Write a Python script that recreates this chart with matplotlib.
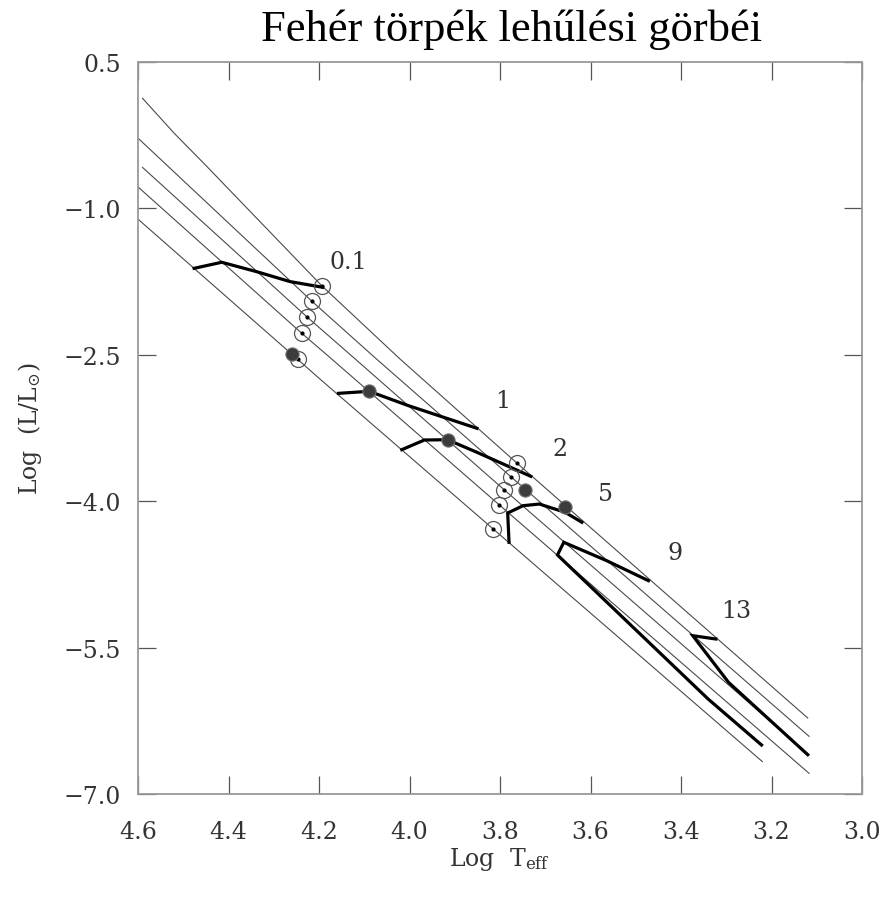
import numpy as np
import matplotlib
matplotlib.use('Agg')
import matplotlib.pyplot as plt

# cooling tracks (thin lines), log Teff / log L
track_a_x = [4.59, 4.52, 4.45, 4.194, 4.021, 3.762, 3.120]
track_a_y = [0.128, -0.23, -0.56, -1.792, -2.543, -3.612, -6.221]
track_b_x = [4.60, 4.216, 4.073, 3.776, 3.117]
track_b_y = [-0.28, -1.95, -2.543, -3.749, -6.409]
track_c_x = [4.59, 4.227, 4.120, 3.791, 3.117]
track_c_y = [-0.58, -2.11, -2.543, -3.882, -6.60]
track_d_x = [4.60, 4.238, 4.172, 3.802, 3.117]
track_d_y = [-0.78, -2.28, -2.543, -4.036, -6.788]
track_e_x = [4.60, 4.247, 4.198, 3.815, 3.220]
track_e_y = [-1.11, -2.547, -2.748, -4.285, -6.669]

# isochrones (thick lines), age labels in Gyr
iso_01_x = [4.476, 4.415, 4.338, 4.264, 4.192]
iso_01_y = [-1.614, -1.552, -1.648, -1.750, -1.808]
iso_1_x = [4.157, 4.089, 4.003, 3.851]
iso_1_y = [-2.895, -2.874, -3.020, -3.253]
iso_2_x = [4.017, 3.967, 3.916, 3.851, 3.732]
iso_2_y = [-3.472, -3.373, -3.370, -3.499, -3.745]
iso_5_x = [3.780, 3.783, 3.749, 3.713, 3.656, 3.619]
iso_5_y = [-4.421, -4.121, -4.046, -4.029, -4.114, -4.216]
iso_9_x = [3.472, 3.564, 3.659, 3.673, 3.340, 3.222]
iso_9_y = [-4.814, -4.610, -4.421, -4.551, -6.027, -6.498]
iso_13_x = [3.323, 3.374, 3.295, 3.120]
iso_13_y = [-5.412, -5.378, -5.856, -6.597]

labels = ['0.1', '1', '2', '5', '9', '13']
label_x = [4.136, 3.793, 3.667, 3.566, 3.413, 3.277]
label_y = [-1.549, -2.970, -3.458, -3.926, -4.524, -5.122]

open_x = [4.194, 4.216, 4.227, 4.238, 4.247, 3.762, 3.776, 3.791, 3.802, 3.815]
open_y = [-1.79, -1.95, -2.11, -2.28, -2.54, -3.612, -3.749, -3.882, -4.036, -4.285]
filled_x = [4.259, 4.089, 3.916, 3.745, 3.656]
filled_y = [-2.49, -2.874, -3.37, -3.882, -4.063]

xticks = [4.6, 4.4, 4.2, 4.0, 3.8, 3.6, 3.4, 3.2, 3.0]
xtick_labels = ['4.6', '4.4', '4.2', '4.0', '3.8', '3.6', '3.4', '3.2', '3.0']
yticks = [0.5, -1.0, -2.5, -4.0, -5.5, -7.0]
ytick_labels = ['0.5', '\u22121.0', '\u22122.5', '\u22124.0', '\u22125.5', '\u22127.0']

plt.rcParams['font.family'] = ['DejaVu Serif']
plt.rcParams['mathtext.fontset'] = 'dejavuserif'

fig = plt.figure(figsize=(8.84, 9.03), dpi=100)
ax = fig.add_axes([138/884, 1-795/903, 724/884, 732/903])

thin = dict(color='#4a4a4a', lw=0.8, zorder=2)
for tx, ty in [(track_a_x, track_a_y), (track_b_x, track_b_y), (track_c_x, track_c_y),
               (track_d_x, track_d_y), (track_e_x, track_e_y)]:
    ax.plot(tx, ty, **thin)

thick = dict(color='black', lw=2.3, zorder=3, solid_joinstyle='miter')
for ix, iy in [(iso_01_x, iso_01_y), (iso_1_x, iso_1_y), (iso_2_x, iso_2_y),
               (iso_5_x, iso_5_y), (iso_9_x, iso_9_y), (iso_13_x, iso_13_y)]:
    ax.plot(ix, iy, **thick)

ax.plot(open_x, open_y, ls='None', marker='o', ms=11.5, mfc='none', mec='#555555', mew=0.9, zorder=4)
ax.plot(open_x, open_y, ls='None', marker='o', ms=2, color='black', zorder=5)
ax.plot(filled_x, filled_y, ls='None', marker='o', ms=9.5, mfc='#3c3c3c', mec='#707070', mew=0.8, zorder=5)

for lab, lx, ly in zip(labels, label_x, label_y):
    ax.text(lx, ly, lab, fontsize=17, color='#333333', ha='center', va='center')

ax.set_xlim(4.6, 3.0)
ax.set_ylim(-7.0, 0.5)
ax.set_xticks(xticks)
ax.set_xticklabels(xtick_labels)
ax.set_yticks(yticks)
ax.set_yticklabels(ytick_labels)
ax.tick_params(direction='in', length=13, width=0.9, color='#555555', top=True, right=True,
               labelsize=17, labelcolor='#333333')
ax.tick_params(axis='x', pad=19)
ax.tick_params(axis='y', pad=12)
for s in ax.spines.values():
    s.set_color('#999999')
    s.set_linewidth(1.3)

ax.set_xlabel(r'Log  T$_{\mathrm{eff}}$', fontsize=17, color='#333333')
ax.xaxis.set_label_coords(0.5, -0.07)
ax.set_ylabel(r'Log  (L/L$_{\odot}$)', fontsize=17, color='#333333')
ax.yaxis.set_label_coords(-0.13, 0.5)

fig.text(512/884, 1-30/903, 'Feh\u00e9r t\u00f6rp\u00e9k leh\u0171l\u00e9si g\u00f6rb\u00e9i',
         fontsize=32, family='Liberation Serif', ha='center', va='center', color='black')

fig.savefig('out.png', dpi=100)
